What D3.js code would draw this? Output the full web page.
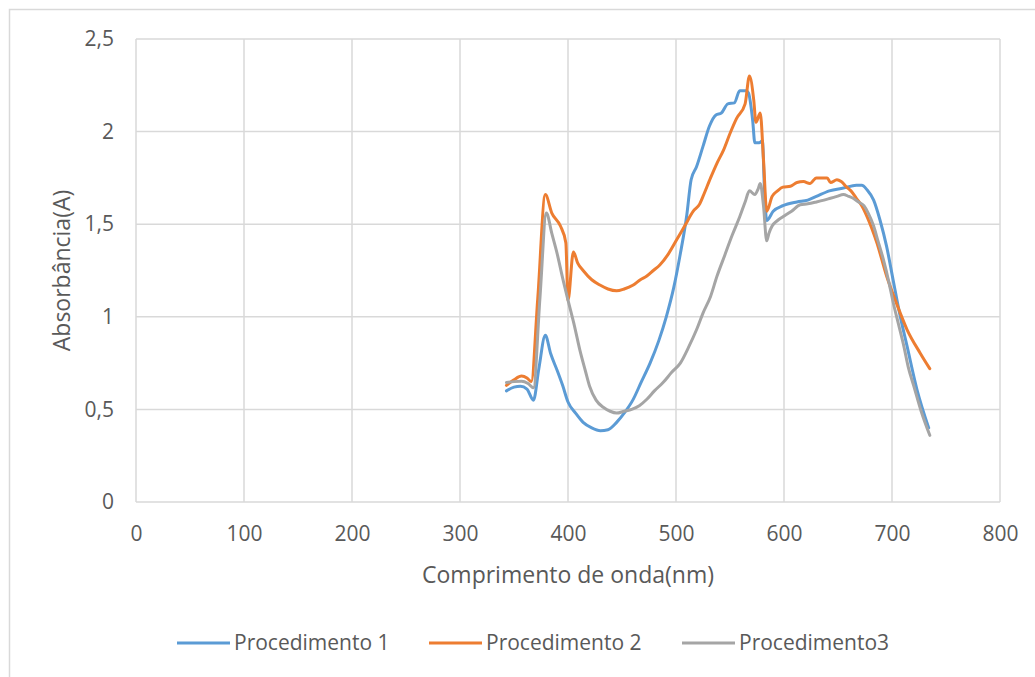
<!DOCTYPE html>
<html lang="pt">
<head>
<meta charset="UTF-8">
<title>Absorbância</title>
<style>
  body { margin: 0; background: #fff; }
  text { font-family: "Open Sans", sans-serif; fill: #595959; }
  .grid line { stroke: #d9d9d9; stroke-width: 1.5px; }
  .serie { fill: none; stroke-width: 3px; stroke-linejoin: round; stroke-linecap: round; }
</style>
</head>
<body>
<svg width="1035" height="677"></svg>
<script src="https://cdn.jsdelivr.net/npm/d3@7/dist/d3.min.js"></script>
<script>

// Procedimento 1
var wl1  = [343, 350, 356, 362, 368, 373, 379, 384, 390, 395, 400, 407, 414, 422, 430, 437, 445, 452, 460, 468, 476, 484, 491, 498, 504, 510, 514, 519, 525, 531, 537, 542, 548, 554, 559, 565, 567, 571, 573, 577, 580, 582, 584, 590, 599, 612, 622, 630, 642, 655, 667, 672, 677, 683, 689, 695, 701, 707, 714, 723, 734];
var abs1 = [0.60, 0.62, 0.625, 0.61, 0.55, 0.72, 0.90, 0.80, 0.71, 0.63, 0.54, 0.48, 0.43, 0.40, 0.385, 0.39, 0.43, 0.48, 0.55, 0.65, 0.75, 0.87, 1.00, 1.16, 1.34, 1.55, 1.74, 1.81, 1.92, 2.03, 2.09, 2.10, 2.15, 2.155, 2.22, 2.22, 2.21, 2.06, 1.94, 1.94, 1.95, 1.67, 1.52, 1.57, 1.60, 1.62, 1.63, 1.65, 1.68, 1.695, 1.71, 1.71, 1.685, 1.63, 1.52, 1.38, 1.20, 1.02, 0.84, 0.61, 0.40];

// Procedimento 2
var wl2  = [343, 350, 357, 362, 366, 372, 379, 385, 393, 398, 400, 405, 409, 414, 422, 430, 437, 445, 452, 460, 467, 473, 479, 485, 493, 501, 508, 516, 522, 525, 532, 538, 544, 550, 556, 564, 568, 572, 574, 578, 581, 584, 589, 594, 599, 606, 612, 618, 624, 630, 635, 640, 643, 649, 653, 658, 662, 667, 672, 677, 686, 695, 704, 714, 726, 735];
var abs2 = [0.63, 0.66, 0.68, 0.67, 0.65, 1.10, 1.66, 1.56, 1.49, 1.40, 1.09, 1.35, 1.29, 1.25, 1.20, 1.17, 1.15, 1.14, 1.15, 1.17, 1.20, 1.22, 1.25, 1.28, 1.34, 1.42, 1.49, 1.57, 1.61, 1.65, 1.75, 1.83, 1.90, 1.99, 2.07, 2.15, 2.30, 2.17, 2.05, 2.10, 1.85, 1.57, 1.65, 1.68, 1.70, 1.705, 1.725, 1.73, 1.72, 1.75, 1.75, 1.75, 1.725, 1.74, 1.73, 1.70, 1.68, 1.64, 1.60, 1.54, 1.40, 1.22, 1.075, 0.93, 0.805, 0.72];

// Procedimento3
var wl3  = [343, 350, 357, 363, 368, 374, 380, 385, 390, 395, 400, 406, 411, 416, 420, 426, 433, 439, 445, 452, 459, 466, 473, 480, 488, 496, 504, 512, 519, 525, 532, 538, 545, 552, 559, 564, 568, 573, 576, 578, 581, 584, 586, 589, 594, 599, 607, 615, 622, 630, 637, 643, 649, 655, 660, 664, 669, 674, 678, 683, 687, 692, 697, 701, 706, 711, 715, 720, 727, 735];
var abs3 = [0.645, 0.65, 0.652, 0.64, 0.617, 1.10, 1.56, 1.45, 1.34, 1.21, 1.09, 0.95, 0.82, 0.71, 0.625, 0.55, 0.51, 0.49, 0.48, 0.49, 0.50, 0.52, 0.555, 0.60, 0.645, 0.70, 0.75, 0.84, 0.93, 1.02, 1.11, 1.22, 1.33, 1.44, 1.54, 1.62, 1.68, 1.66, 1.69, 1.72, 1.60, 1.41, 1.45, 1.49, 1.52, 1.54, 1.57, 1.605, 1.61, 1.62, 1.63, 1.64, 1.65, 1.66, 1.65, 1.64, 1.62, 1.60, 1.56, 1.49, 1.41, 1.31, 1.19, 1.08, 0.96, 0.84, 0.73, 0.63, 0.49, 0.36];

var names  = ["Procedimento 1", "Procedimento 2", "Procedimento3"];
var colors = ["#5b9bd5", "#ed7d31", "#a5a5a5"];
var xTicks = [0, 100, 200, 300, 400, 500, 600, 700, 800];
var yTicks = [0, 0.5, 1, 1.5, 2, 2.5];

var series = [
  { name: names[0], color: colors[0], values: wl1.map(function (w, i) { return { x: w, y: abs1[i] }; }) },
  { name: names[1], color: colors[1], values: wl2.map(function (w, i) { return { x: w, y: abs2[i] }; }) },
  { name: names[2], color: colors[2], values: wl3.map(function (w, i) { return { x: w, y: abs3[i] }; }) }
];

var svg = d3.select("svg"),
    margin = {top: 39, right: 35, bottom: 175, left: 136},
    width = +svg.attr("width") - margin.left - margin.right,
    height = +svg.attr("height") - margin.top - margin.bottom;

var fmt = function (d) { return String(d).replace(".", ","); };

// outer chart frame
svg.append("rect")
    .attr("x", 9.5).attr("y", 9.5)
    .attr("width", 1100).attr("height", 1000)
    .attr("fill", "none")
    .attr("stroke", "#d9d9d9")
    .attr("stroke-width", 1.5);

var x = d3.scaleLinear().domain([0, 800]).range([0, width]),
    y = d3.scaleLinear().domain([0, 2.5]).range([height, 0]);

var g = svg.append("g")
    .attr("transform", "translate(" + margin.left + "," + margin.top + ")");

// gridlines
g.append("g")
    .attr("class", "grid")
    .selectAll("line.v")
    .data(xTicks)
    .enter().append("line")
    .attr("x1", function (d) { return x(d); })
    .attr("x2", function (d) { return x(d); })
    .attr("y1", 0)
    .attr("y2", height);

g.append("g")
    .attr("class", "grid")
    .selectAll("line.h")
    .data(yTicks)
    .enter().append("line")
    .attr("x1", 0)
    .attr("x2", width)
    .attr("y1", function (d) { return y(d); })
    .attr("y2", function (d) { return y(d); });

// axes (labels only, lines come from the grid)
var xAxis = d3.axisBottom(x).tickValues(xTicks).tickSize(0).tickPadding(24).tickFormat(fmt);
var yAxis = d3.axisLeft(y).tickValues(yTicks).tickSize(0).tickPadding(22).tickFormat(fmt);

g.append("g")
    .attr("transform", "translate(0," + height + ")")
    .call(xAxis)
    .call(function (a) { a.select(".domain").remove(); })
    .selectAll("text")
    .style("font-size", "21px")
    .attr("fill", "#595959");

g.append("g")
    .call(yAxis)
    .call(function (a) { a.select(".domain").remove(); })
    .selectAll("text")
    .style("font-size", "21px")
    .attr("fill", "#595959");

// lines
var line = d3.line()
    .x(function (d) { return x(d.x); })
    .y(function (d) { return y(d.y); })
    .curve(d3.curveMonotoneX);

g.selectAll(".serie")
    .data(series)
    .enter().append("path")
    .attr("class", "serie")
    .attr("stroke", function (d) { return d.color; })
    .attr("d", function (d) { return line(d.values); });

// axis titles
svg.append("text")
    .attr("x", margin.left + width / 2)
    .attr("y", 583)
    .attr("text-anchor", "middle")
    .style("font-size", "23px")
    .text("Comprimento de onda(nm)");

svg.append("text")
    .attr("transform", "translate(70," + (margin.top + height / 2) + ") rotate(-90)")
    .attr("text-anchor", "middle")
    .style("font-size", "23px")
    .text("Absorbância(A)");

// legend
var legendX = [177, 429, 682];
var legend = svg.selectAll(".legend")
    .data(series)
    .enter().append("g")
    .attr("class", "legend")
    .attr("transform", function (d, i) { return "translate(" + legendX[i] + ",643)"; });

legend.append("line")
    .attr("x1", 0).attr("x2", 53)
    .attr("stroke", function (d) { return d.color; })
    .attr("stroke-width", 3);

legend.append("text")
    .attr("x", 57)
    .attr("dy", "0.35em")
    .style("font-size", "21px")
    .text(function (d) { return d.name; });

</script>
</body>
</html>
